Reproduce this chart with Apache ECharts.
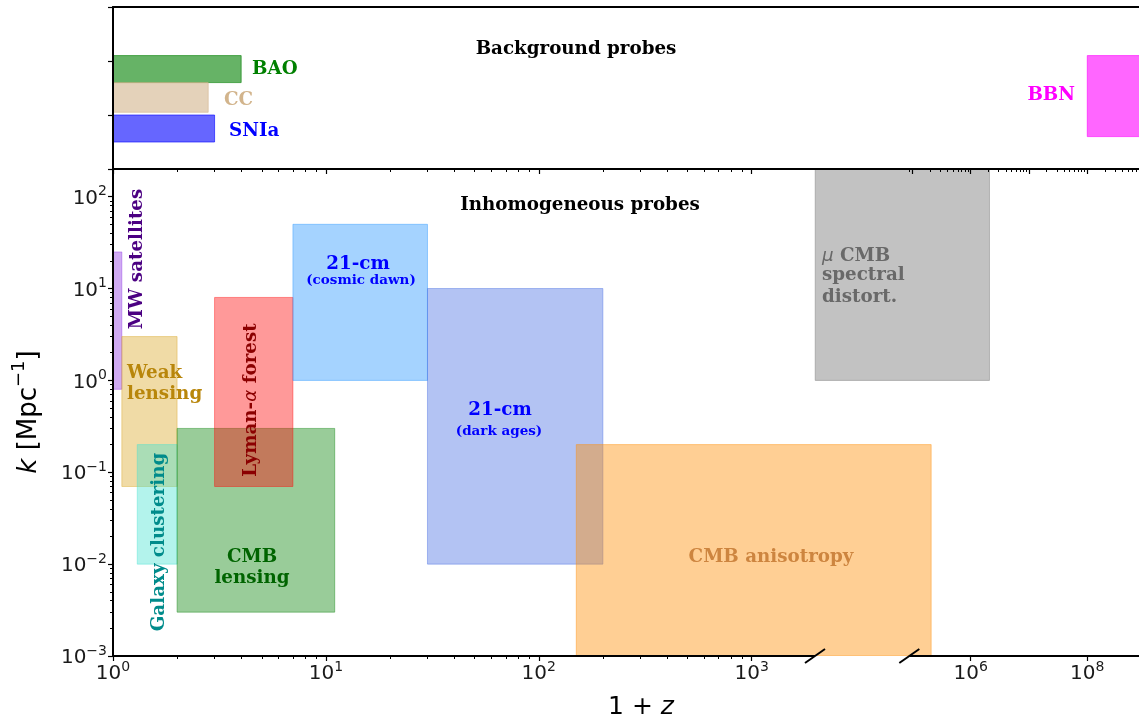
<!DOCTYPE html>
<html><head><meta charset="utf-8">
<script src="https://cdn.jsdelivr.net/npm/echarts@6/dist/echarts.min.js"></script>
<style>html,body{margin:0;padding:0;background:#fff;overflow:hidden;width:1139px;height:722px}#c{width:1200px;height:722px}</style>
</head><body><div id="c"></div>
<script>
// ---------------- data ----------------
// Background probes (top panel): range in 1+z and bar band (unitless row coords)
const bgNames = ['BAO', 'CC', 'SNIa', 'BBN'];
const bgZMin  = [1, 1, 1, 1e8];
const bgZMax  = [4, 2.8, 3, 1e9];
const bgRowLo = [1.6, 1.05, 0.5, 0.6];
const bgRowHi = [2.1, 1.6, 1.0, 2.1];

// Inhomogeneous probes (bottom panel): 1+z range and k range [Mpc^-1]
const inNames = ['MW satellites', 'Weak lensing', 'Galaxy clustering', 'CMB lensing',
  'Lyman-α forest', '21-cm (cosmic dawn)', '21-cm (dark ages)', 'CMB anisotropy', 'μ CMB spectral distort.'];
const inZMin = [1, 1.1, 1.3, 2, 3, 7, 30, 150, 2000];
const inZMax = [1.1, 2, 2, 11, 7, 30, 200, 2.1e5, 2.1e6];
const inKMin = [0.8, 0.07, 0.01, 0.003, 0.07, 1, 0.01, 0.001, 1];
const inKMax = [25, 3, 0.2, 0.3, 8, 50, 10, 0.2, 1000];

// tick labels
const xMajorTicks  = [1, 10, 100, 1000, 1e6, 1e8];
const xMajorLabels = ['0', '1', '2', '3', '6', '8'];
const yMajorTicks  = [0.001, 0.01, 0.1, 1, 10, 100];
const yMajorLabels = ['−3', '−2', '−1', '0', '1', '2'];
const kAxisMax = 200;

// ---------------- broken x-axis transform ----------------
const PX_PER_DECADE = 212.9;
const LEFT_END_U = 3.2973;   // log10(1+z) where left segment ends
const GAP_END_D  = 3.7403;   // display coord where right segment starts
const R_D6 = 4.0286;         // display coord of 1+z = 1e6
const R_SCALE = 0.27385;     // right segment compression
const D_MAX = 5;
const R_START_U = 6 - (R_D6 - GAP_END_D) / R_SCALE;
function toD(v) {
  const u = Math.log10(v);
  if (u <= LEFT_END_U) return u;
  if (u >= R_START_U) return R_D6 + (u - 6) * R_SCALE;
  return LEFT_END_U + (u - LEFT_END_U) / (R_START_U - LEFT_END_U) * (GAP_END_D - LEFT_END_U);
}

// ---------------- styles ----------------
const bgFill = ['rgba(0,128,0,0.6)', 'rgba(210,180,140,0.6)', 'rgba(0,0,255,0.6)', 'rgba(255,0,255,0.6)'];
const inFill = ['rgba(138,43,226,0.4)', 'rgba(218,165,32,0.4)', 'rgba(64,224,208,0.4)', 'rgba(0,128,0,0.4)',
  'rgba(255,0,0,0.4)', 'rgba(30,144,255,0.4)', 'rgba(65,105,225,0.4)', 'rgba(255,140,0,0.42)', 'rgba(128,128,128,0.48)'];

// ticks
const xMajD = xMajorTicks.map(toD);
const leftMinor = [];
for (let n = 0; n <= 3; n++) for (let j = 2; j <= 9; j++) {
  const v = j * Math.pow(10, n); if (Math.log10(v) < LEFT_END_U) leftMinor.push(toD(v));
}
const rightMinorTop = [], rightMajorTop = [];
for (let n = 4; n <= 9; n++) {
  const m = Math.pow(10, n);
  if (Math.log10(m) >= R_START_U && toD(m) <= D_MAX) rightMajorTop.push(toD(m));
  for (let j = 2; j <= 9; j++) {
    const v = j * m; if (Math.log10(v) >= R_START_U && toD(v) <= D_MAX) rightMinorTop.push(toD(v));
  }
}
const topMajor = [1, 10, 100, 1000].map(toD).concat(rightMajorTop);
const topMinor = leftMinor.concat(rightMinorTop);
const yMajD = yMajorTicks.map(v => Math.log10(v));
const yMinD = [];
for (let n = -3; n <= 2; n++) for (let j = 2; j <= 9; j++) {
  const v = j * Math.pow(10, n); if (v <= kAxisMax + 1e-9) yMinD.push(Math.log10(v));
}

const tickFont = 'DejaVu Sans';
const supRich = {
  b: { fontSize: 20, fontFamily: tickFont, color: '#1a1a1a', lineHeight: 24, verticalAlign: 'bottom' },
  s: { fontSize: 14, fontFamily: tickFont, color: '#1a1a1a', lineHeight: 24, verticalAlign: 'top' }
};
function fmt(val, ds, labs) {
  let best = 0;
  for (let i = 0; i < ds.length; i++) if (Math.abs(ds[i] - val) < Math.abs(ds[best] - val)) best = i;
  return '{b|10}{s|' + labs[best] + '}';
}
const spine = { show: true, onZero: false, lineStyle: { color: '#000', width: 2 } };
const noLine = { show: false, onZero: false };

function rectItem(fills) {
  return function (params, api) {
    const p0 = api.coord([api.value(0), api.value(2)]);
    const p1 = api.coord([api.value(1), api.value(3)]);
    const c = fills[params.dataIndex];
    return {
      type: 'rect',
      shape: { x: p0[0], y: p1[1], width: p1[0] - p0[0], height: p0[1] - p1[1] },
      style: { fill: c, stroke: c, lineWidth: 1 }
    };
  };
}

const bgData = bgNames.map((n, i) => ({ name: n, value: [toD(bgZMin[i]), toD(bgZMax[i]), bgRowLo[i], bgRowHi[i]] }));
const inData = inNames.map((n, i) => ({ name: n, value: [toD(inZMin[i]), toD(inZMax[i]), Math.log10(inKMin[i]), Math.log10(inKMax[i])] }));

const serif = { fontFamily: 'DejaVu Serif', fontWeight: 'bold', fontSize: 18.3 };
function txt(x, y, text, color, opts) {
  return Object.assign({ type: 'text', x: x, y: y, z: 100,
    style: Object.assign({ text: text, fill: color, align: 'center', verticalAlign: 'middle' }, serif, (opts && opts.style) || {}) },
    (opts && opts.el) || {});
}
const gridW = D_MAX * PX_PER_DECADE;

const option = {
  animation: false,
  grid: [
    { left: 113, top: 7, width: gridW, height: 162, outerBoundsMode: 'none', containLabel: false },
    { left: 113, top: 169, width: gridW, height: 487, outerBoundsMode: 'none', containLabel: false }
  ],
  xAxis: [
    { gridIndex: 0, type: 'value', min: 0, max: D_MAX, position: 'bottom', z: 10,
      axisLine: spine, splitLine: { show: false }, axisLabel: { show: false },
      axisTick: { show: true, length: 5, lineStyle: { color: '#000', width: 1.2 }, customValues: topMajor } },
    { gridIndex: 0, type: 'value', min: 0, max: D_MAX, position: 'bottom', offset: 0, z: 10,
      axisLine: noLine, splitLine: { show: false }, axisLabel: { show: false },
      axisTick: { show: true, length: 3, lineStyle: { color: '#000', width: 1 }, customValues: topMinor } },
    { gridIndex: 0, type: 'value', min: 0, max: D_MAX, position: 'top', z: 10,
      axisLine: spine, splitLine: { show: false }, axisLabel: { show: false }, axisTick: { show: false } },
    { gridIndex: 1, type: 'value', min: 0, max: D_MAX, position: 'bottom', z: 10,
      axisLine: noLine, splitLine: { show: false },
      axisTick: { show: true, length: 5, lineStyle: { color: '#000', width: 1.2 }, customValues: xMajD },
      axisLabel: { show: true, margin: 4, customValues: xMajD, formatter: v => fmt(v, xMajD, xMajorLabels), rich: supRich } },
    { gridIndex: 1, type: 'value', min: 0, max: D_MAX, position: 'bottom', offset: 0, z: 10,
      axisLine: noLine, splitLine: { show: false }, axisLabel: { show: false },
      axisTick: { show: true, length: 3, lineStyle: { color: '#000', width: 1 }, customValues: leftMinor } }
  ],
  yAxis: [
    { gridIndex: 0, type: 'value', min: 0, max: 3, interval: 1, z: 10,
      axisLine: spine, splitLine: { show: false }, axisLabel: { show: false },
      axisTick: { show: true, length: 5, lineStyle: { color: '#000', width: 1.2 } } },
    { gridIndex: 1, type: 'value', min: -3, max: Math.log10(kAxisMax), position: 'left', z: 10,
      axisLine: spine, splitLine: { show: false },
      axisTick: { show: true, length: 5, lineStyle: { color: '#000', width: 1.2 }, customValues: yMajD },
      axisLabel: { show: true, margin: 6, customValues: yMajD, formatter: v => fmt(v, yMajD, yMajorLabels), rich: supRich } },
    { gridIndex: 1, type: 'value', min: -3, max: Math.log10(kAxisMax), position: 'left', offset: 0, z: 10,
      axisLine: noLine, splitLine: { show: false }, axisLabel: { show: false },
      axisTick: { show: true, length: 3, lineStyle: { color: '#000', width: 1 }, customValues: yMinD } }
  ],
  series: [
    { type: 'custom', name: 'Background probes', coordinateSystem: 'cartesian2d', xAxisIndex: 0, yAxisIndex: 0,
      clip: true, encode: { x: [0, 1], y: [2, 3] }, renderItem: rectItem(bgFill), data: bgData },
    { type: 'custom', name: 'Inhomogeneous probes', coordinateSystem: 'cartesian2d', xAxisIndex: 3, yAxisIndex: 1,
      clip: true, encode: { x: [0, 1], y: [2, 3] }, renderItem: rectItem(inFill), data: inData },
    { type: 'custom', name: 'axis break', coordinateSystem: 'cartesian2d', xAxisIndex: 3, yAxisIndex: 1,
      clip: false, z: 20, silent: true, data: [[0, -3]],
      renderItem: function (params, api) {
        const yb = -3;
        const a = api.coord([0, yb]), b = api.coord([LEFT_END_U, yb]);
        const c = api.coord([GAP_END_D, yb]), d = api.coord([D_MAX, yb]);
        const ls = { stroke: '#000', lineWidth: 2 };
        const mk = p => ({ type: 'line', shape: { x1: p[0] - 10, y1: p[1] + 7, x2: p[0] + 10, y2: p[1] - 7 }, style: ls });
        return { type: 'group', children: [
          { type: 'line', shape: { x1: a[0] - 1, y1: a[1], x2: b[0], y2: b[1] }, style: ls },
          { type: 'line', shape: { x1: c[0], y1: c[1], x2: d[0], y2: d[1] }, style: ls },
          mk(b), mk(c)
        ] };
      } }
  ],
  graphic: [
    txt(576, 49, 'Background probes', '#000'),
    txt(252, 69, 'BAO', '#008000', { style: { align: 'left' } }),
    txt(224, 100, 'CC', '#D2B48C', { style: { align: 'left' } }),
    txt(229, 131, 'SNIa', '#0000FF', { style: { align: 'left' } }),
    txt(1075, 95, 'BBN', '#FF00FF', { style: { align: 'right' } }),
    txt(580, 205, 'Inhomogeneous probes', '#000'),
    txt(137, 259, 'MW satellites', '#4B0082', { el: { rotation: Math.PI / 2 } }),
    txt(127, 373, 'Weak', '#B8860B', { style: { align: 'left' } }),
    txt(127, 394, 'lensing', '#B8860B', { style: { align: 'left' } }),
    txt(159, 542, 'Galaxy clustering', '#008B8B', { el: { rotation: Math.PI / 2 } }),
    txt(251, 400, '{a|Lyman-}{g|α}{a| forest}', '#8B0000', { el: { rotation: Math.PI / 2 }, style: { rich: {
      a: { fontFamily: 'DejaVu Serif', fontWeight: 'bold', fontSize: 18.3, fill: '#8B0000' },
      g: { fontFamily: 'DejaVu Sans', fontStyle: 'italic', fontSize: 18.3, fill: '#8B0000' } } } }),
    txt(358, 264, '21-cm', '#0000FF'),
    txt(361, 280, '(cosmic dawn)', '#0000FF', { style: { fontSize: 13.5 } }),
    txt(500, 410, '21-cm', '#0000FF'),
    txt(499, 431, '(dark ages)', '#0000FF', { style: { fontSize: 13.5 } }),
    txt(252, 557, 'CMB', '#006400'),
    txt(252, 578, 'lensing', '#006400'),
    txt(771, 557, 'CMB anisotropy', '#CD853F'),
    txt(822, 256, '{g|μ}{a| CMB}', '#696969', { style: { align: 'left', rich: {
      a: { fontFamily: 'DejaVu Serif', fontWeight: 'bold', fontSize: 18.3, fill: '#696969' },
      g: { fontFamily: 'DejaVu Sans', fontStyle: 'italic', fontSize: 18.3, fill: '#696969' } } } }),
    txt(822, 275, 'spectral', '#696969', { style: { align: 'left' } }),
    txt(822, 297, 'distort.', '#696969', { style: { align: 'left' } }),
    { type: 'text', x: 641, y: 707, z: 100, style: { text: '{n|1 + }{i|z}', align: 'center', verticalAlign: 'middle',
      rich: { n: { fontFamily: 'DejaVu Sans', fontSize: 25, fill: '#000' },
              i: { fontFamily: 'DejaVu Sans', fontStyle: 'italic', fontSize: 25, fill: '#000' } } } },
    { type: 'text', x: 26, y: 412, z: 100, rotation: Math.PI / 2,
      style: { text: '{i|k}{n| [Mpc}{s|−1}{n|]}', align: 'center', verticalAlign: 'middle',
      rich: { n: { fontFamily: 'DejaVu Sans', fontSize: 26, fill: '#000', lineHeight: 32, verticalAlign: 'bottom' },
              i: { fontFamily: 'DejaVu Sans', fontStyle: 'italic', fontSize: 26, fill: '#000', lineHeight: 32, verticalAlign: 'bottom' },
              s: { fontFamily: 'DejaVu Sans', fontSize: 18, fill: '#000', lineHeight: 32, verticalAlign: 'top' } } } }
  ]
};

const chart = echarts.init(document.getElementById('c'), null, { renderer: 'canvas' });
chart.setOption(option);
</script>
</body></html>
